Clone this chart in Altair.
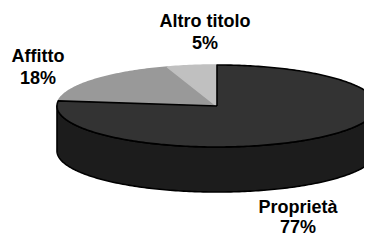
import altair as alt
import numpy as np
import pandas as pd

# ---- data ----
names = ["Proprietà", "Affitto", "Altro titolo"]
shares = [77, 18, 5]

# ---- styles / layout ----
top_fill = ["#333333", "#999999", "#c0c0c0"]
top_stroke = ["#000000", "#999999", "#c0c0c0"]
side_fill = "#1c1c1c"
DEPTH = 45 / 41          # pie thickness, in units of the vertical radius
label_x = [290, 30, 197]     # label anchors (view px)
label_y = [205, 54, 19]
line_gap = [20, 22, 22]

top_rows, side_rows = [], []
start = 0.0
for name, s in zip(names, shares):
    end = start + s / 100 * 360
    n = max(int(np.ceil(end - start)), 2)
    pts = [(0.0, 0.0)]
    for a in np.linspace(start, end, n + 1):
        r = np.radians(a)
        pts.append((np.sin(r), np.cos(r)))
    pts.append((0.0, 0.0))
    for i, (x, y) in enumerate(pts):
        top_rows.append(dict(name=name, i=i, x=x, y=y))
    a1, a2 = max(start, 90.0), min(end, 270.0)
    if a2 > a1:
        arc = np.linspace(a1, a2, int(np.ceil(a2 - a1)) + 1)
        spts = [(np.sin(np.radians(a)), np.cos(np.radians(a))) for a in arc]
        spts += [(np.sin(np.radians(a)), np.cos(np.radians(a)) - DEPTH) for a in arc[::-1]]
        spts.append(spts[0])
        for i, (x, y) in enumerate(spts):
            side_rows.append(dict(name=name, i=i, x=x, y=y))
    start = end

top_df = pd.DataFrame(top_rows)
side_df = pd.DataFrame(side_rows)

xs = alt.Scale(domain=[-1, 1], range=[49, 369], nice=False, zero=False)
ys = alt.Scale(domain=[-1, 1], range=[139, 57], nice=False, zero=False)

def faces(df, fills, strokes, sel):
    d = df[df["name"].isin(sel)]
    return alt.Chart(d).mark_line(strokeWidth=1.6, strokeJoin="round").encode(
        x=alt.X("x:Q", scale=xs, axis=None),
        y=alt.Y("y:Q", scale=ys, axis=None),
        order=alt.Order("i:Q"),
        detail="name:N",
        fill=alt.Fill("name:N", scale=alt.Scale(domain=names, range=fills), legend=None),
        stroke=alt.Stroke("name:N", scale=alt.Scale(domain=names, range=strokes), legend=None),
    )

side = faces(side_df, [side_fill] * 3, ["#000000"] * 3, names)
tops_gray = faces(top_df, top_fill, top_stroke, names[1:])
top_main = faces(top_df, top_fill, top_stroke, names[:1])

lab = pd.DataFrame({
    "name": names,
    "pct": [f"{s}%" for s in shares],
    "lx": label_x,
    "ly": label_y,
})
lab["ly2"] = lab["ly"] + np.array(line_gap)

txt_kw = dict(font="Liberation Sans", fontSize=18, fontWeight="bold",
              align="center", baseline="alphabetic", color="#000000")
t1 = alt.Chart(lab).mark_text(**txt_kw).encode(
    x=alt.X("lx:Q", scale=None, axis=None),
    y=alt.Y("ly:Q", scale=None, axis=None),
    text="name:N",
)
t2 = alt.Chart(lab).mark_text(**txt_kw).encode(
    x=alt.X("lx:Q", scale=None, axis=None),
    y=alt.Y("ly2:Q", scale=None, axis=None),
    text="pct:N",
)

chart = alt.layer(side, tops_gray, top_main, t1, t2).resolve_scale(
    x="independent", y="independent", fill="independent", stroke="independent"
).properties(
    width=356, height=230, padding=0, autosize=alt.AutoSizeParams(type="none"),
    background="#ffffff",
).configure_view(stroke=None)

chart.save("out.html", embed_options={"renderer": "svg", "actions": False})
